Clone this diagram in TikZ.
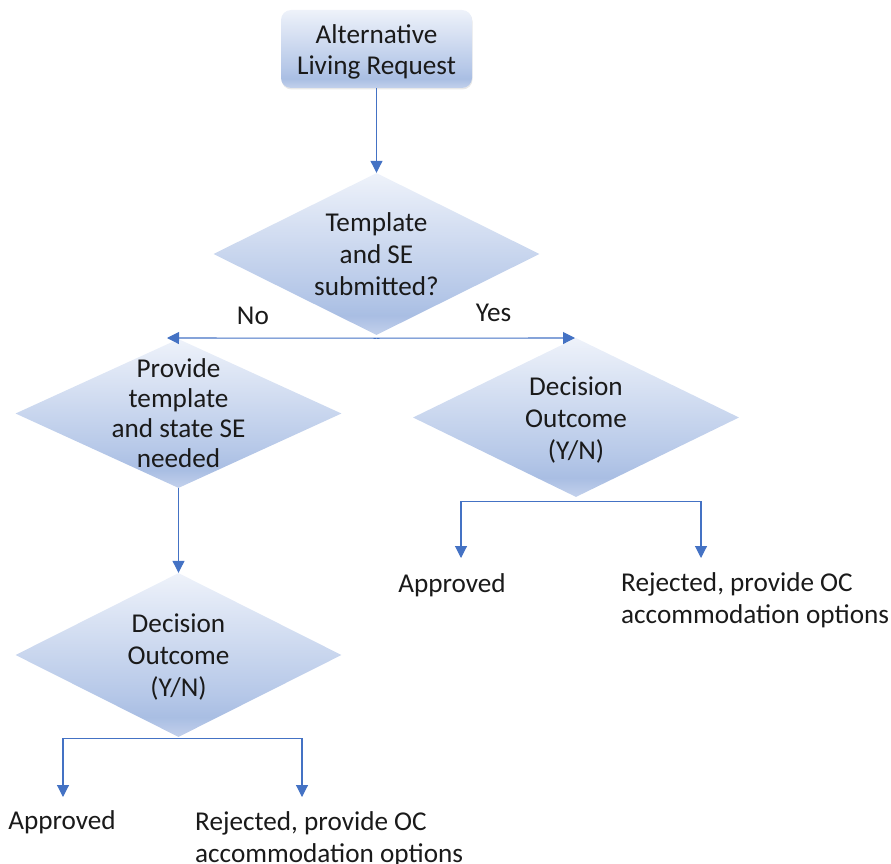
\documentclass[tikz,border=0pt]{standalone}
\usepackage{fontspec}
\setmainfont{Carlito}
\usepackage{tikz}
\usetikzlibrary{arrows.meta,shapes.geometric,shadows}
\definecolor{officeblue}{HTML}{4472C4}
\definecolor{gradtop}{HTML}{EEF2FA}
\definecolor{gradmid}{HTML}{B6C8E8}
\definecolor{gradlow}{HTML}{A9BEE3}
\definecolor{gradbot}{HTML}{C3D1EC}
\definecolor{inktext}{HTML}{1A1A1A}
\pgfdeclareverticalshading{paleblue}{100bp}{color(0bp)=(gradbot); color(25bp)=(gradbot); color(31bp)=(gradlow); color(38bp)=(gradmid); color(75bp)=(gradtop); color(100bp)=(gradtop)}

\begin{document}
\begin{tikzpicture}[x=1pt,y=-1pt,
        font=\fontsize{27.2}{32}\selectfont, text=inktext,
        startbox/.style={rectangle, rounded corners=10pt, minimum width=191pt, minimum height=78pt,
            shade, shading=paleblue, inner sep=0pt,
            drop shadow={opacity=0.18, shadow xshift=0.5pt, shadow yshift=-1.5pt}},
        decision/.style={diamond, minimum width=326pt, minimum height=#1, inner sep=0pt,
            shade, shading=paleblue},
        dtext/.style={align=center, inner sep=0pt, text=inktext},
        outcome/.style={align=left, inner sep=0pt},
        flow/.style={draw=officeblue, line width=1.1pt, -{Triangle[length=12pt,width=12pt]}}]
    \useasboundingbox (0,0) rectangle (891,864);

    \node[startbox, label={[dtext, yshift=-3pt, font=\fontsize{27.2}{31}\selectfont]center:{Alternative\\Living Request}}] (req) at (376.5,49) {};

    \node[decision=162pt, label={[dtext]center:{Template\\and SE\\submitted?}}] (tpl) at (376.5,254) {};
    \node[decision=149pt, label={[dtext, font=\fontsize{27.2}{30}\selectfont]center:{Provide\\template\\and state SE\\needed}}] (prov) at (178.5,413.5) {};
    \node[decision=159pt, label={[dtext, yshift=-3pt]center:{Decision\\Outcome\\(Y/N)}}] (decr) at (576,417.5) {};
    \node[decision=164pt, label={[dtext, yshift=-2pt]center:{Decision\\Outcome\\(Y/N)}}] (decl) at (178.5,655) {};

    \node[outcome] (apprl) at (62,822) {Approved};
    \node[outcome, anchor=west] (rejl) at (195,839.5) {Rejected, provide OC\\accommodation options};
    \node[outcome] (apprr) at (452,585) {Approved};
    \node[outcome, anchor=west] (rejr) at (621,600.5) {Rejected, provide OC\\accommodation options};

    \coordinate (noend) at (167,338);
    \coordinate (yesend) at (575,338);
    \coordinate (apprlend) at (63,797);
    \coordinate (rejlend) at (302,797);
    \coordinate (apprrend) at (461,558);
    \coordinate (rejrend) at (701,558);

    \draw[flow] (req) -- (tpl);
    \draw[flow] (tpl.south) ++(0,3) coordinate (fork) -- node[pos=0.59, above=10pt] (no) {No} (noend);
    \draw[flow] (fork) -- node[pos=0.59, above=13pt] (yes) {Yes} (yesend);
    \draw[flow] (prov) -- (decl);
    \draw[flow] (decl.south) ++(0,1) -| (apprlend);
    \draw[flow] (decl.south) ++(0,1) -| (rejlend);
    \draw[flow] (decr.south) ++(0,4) -| (apprrend);
    \draw[flow] (decr.south) ++(0,4) -| (rejrend);
\end{tikzpicture}
\end{document}
